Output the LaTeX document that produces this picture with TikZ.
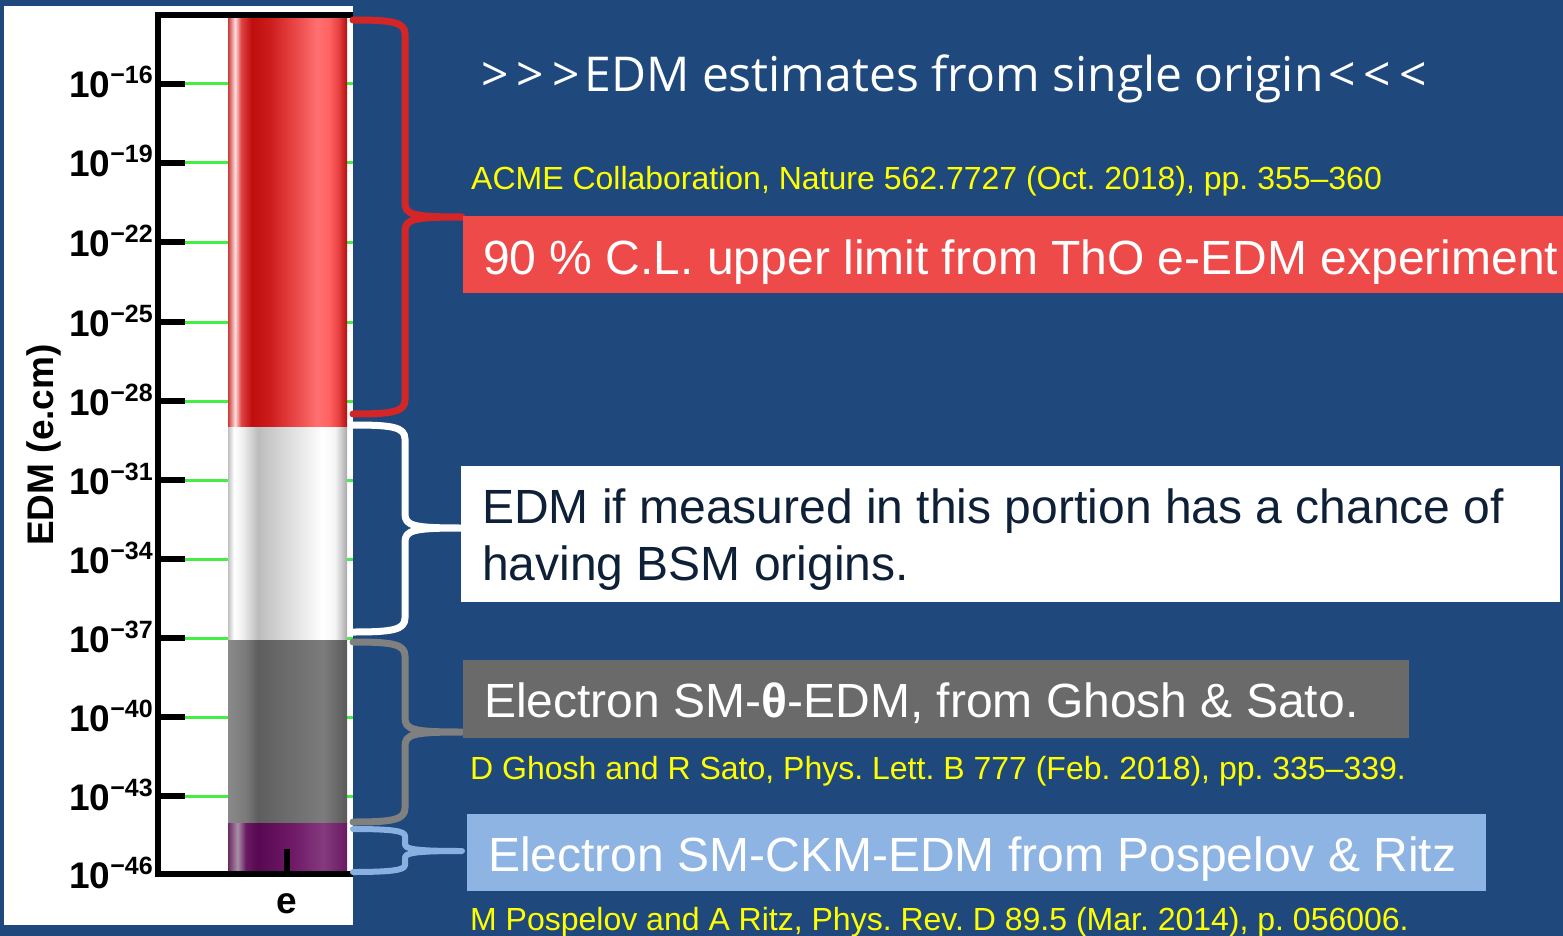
\documentclass[tikz,border=0pt]{standalone}
\usepackage{fontspec}
\setmainfont{Liberation Sans}
\newfontfamily\titlefont{Open Sans}
\usetikzlibrary{calc}

\definecolor{bg}{HTML}{1F497D}
\definecolor{redboxc}{HTML}{EF4A4A}
\definecolor{grayboxc}{HTML}{6A6A6A}
\definecolor{blueboxc}{HTML}{8EB4E3}
\definecolor{refyellow}{HTML}{FFFF00}
\definecolor{bracered}{HTML}{D42626}
\definecolor{bracegray}{HTML}{808080}
\definecolor{braceblue}{HTML}{88B0E0}
\definecolor{tickgreen}{HTML}{44EE44}
\definecolor{darktext}{HTML}{0E2038}

% red bar colours
\definecolor{rb0}{HTML}{CC3838}\definecolor{rb1}{HTML}{FFE0E0}\definecolor{rb2}{HTML}{E04444}
\definecolor{rb3}{HTML}{C00E0E}\definecolor{rb4}{HTML}{CC1C1C}\definecolor{rb5}{HTML}{E84444}
\definecolor{rb6}{HTML}{FF7070}\definecolor{rb7}{HTML}{FF6262}\definecolor{rb8}{HTML}{E84040}
\definecolor{rb9}{HTML}{B01010}
% white bar colours
\definecolor{wb0}{HTML}{C0C0C0}\definecolor{wb1}{HTML}{FFFFFF}\definecolor{wb2}{HTML}{F0F0F0}
\definecolor{wb3}{HTML}{BCBCBC}\definecolor{wb4}{HTML}{DCDCDC}\definecolor{wb5}{HTML}{FFFFFF}
\definecolor{wb6}{HTML}{F4F4F4}\definecolor{wb7}{HTML}{A8A8A8}
% gray bar colours
\definecolor{gb0}{HTML}{8A8A8A}\definecolor{gb1}{HTML}{7A7A7A}\definecolor{gb2}{HTML}{5E5E5E}
\definecolor{gb3}{HTML}{6C6C6C}\definecolor{gb4}{HTML}{7C7C7C}\definecolor{gb5}{HTML}{5A5A5A}
% purple bar colours
\definecolor{pb0}{HTML}{6A2A64}\definecolor{pb1}{HTML}{A890A4}\definecolor{pb2}{HTML}{6A1A62}
\definecolor{pb3}{HTML}{580852}\definecolor{pb4}{HTML}{701A68}\definecolor{pb5}{HTML}{843A7E}
\definecolor{pb6}{HTML}{6A1A62}

\pgfdeclarehorizontalshading{redbar}{100bp}{color(0bp)=(rb0); color(25bp)=(rb0); color(28bp)=(rb1); color(30.5bp)=(rb2); color(35bp)=(rb3); color(42.5bp)=(rb4); color(52.5bp)=(rb5); color(62.5bp)=(rb6); color(67.5bp)=(rb7); color(71.5bp)=(rb8); color(75bp)=(rb9); color(100bp)=(rb9)}
\pgfdeclarehorizontalshading{whitebar}{100bp}{color(0bp)=(wb0); color(25bp)=(wb0); color(27.5bp)=(wb1); color(31bp)=(wb2); color(37.5bp)=(wb3); color(50bp)=(wb4); color(65bp)=(wb5); color(70bp)=(wb6); color(75bp)=(wb7); color(100bp)=(wb7)}
\pgfdeclarehorizontalshading{graybar}{100bp}{color(0bp)=(gb0); color(25bp)=(gb0); color(32.5bp)=(gb1); color(37.5bp)=(gb2); color(50bp)=(gb3); color(65bp)=(gb4); color(75bp)=(gb5); color(100bp)=(gb5)}
\pgfdeclarehorizontalshading{purplebar}{100bp}{color(0bp)=(pb0); color(25bp)=(pb0); color(29bp)=(pb1); color(32.5bp)=(pb2); color(37.5bp)=(pb3); color(52.5bp)=(pb4); color(65bp)=(pb5); color(75bp)=(pb6); color(100bp)=(pb6)}

\tikzset{
  axisline/.style={line width=6pt, black},
  gridline/.style={line width=3pt, tickgreen},
  ticklabel/.style={anchor=base east, inner sep=0pt, font=\bfseries\fontsize{37}{37}\selectfont},
  bracestyle/.style={line width=7pt, line cap=round, line join=round},
  box/.style={anchor=north west, inner sep=0pt, draw=none},
  boxtext/.style={anchor=base west, inner sep=0pt, font=\frenchspacing\fontsize{48}{57}\selectfont},
  reftext/.style={anchor=base west, inner sep=0pt, text=refyellow, font=\frenchspacing\fontsize{32}{38}\selectfont},
}

% brace: style, top y, middle (tip) y, bottom y, corner offset
\newcommand\edmbrace[5]{%
  \draw[bracestyle,#1] (353,#2) .. controls (392,#2) and (405,#2+2) .. (405,#2+#5)
    -- (405,#3-#5) .. controls (405,#3-2) and (414,#3) .. (462,#3)
    .. controls (414,#3) and (405,#3+2) .. (405,#3+#5)
    -- (405,#4-#5) .. controls (405,#4-2) and (392,#4) .. (353,#4);}

\begin{document}
\begin{tikzpicture}[x=1pt,y=-1pt]
\fill[bg] (0,0) rectangle (1563,936);
\useasboundingbox (0,0) rectangle (1563,936);

% white panel
\fill[white] (4,6) rectangle (353,925);

% green grid lines
\foreach \y in {84,163,242,322,401,480,559,638,717,796}
  \draw[gridline] (185,\y) -- (353,\y);

% bar segments
\shade[shading=redbar] (228,19) rectangle (347,427);
\shade[shading=whitebar] (228,427) rectangle (347,640);
\shade[shading=graybar] (228,640) rectangle (347,823);
\shade[shading=purplebar] (228,823) rectangle (347,872);

% axes
\draw[axisline] (158,12) -- (158,877);
\draw[axisline] (155,15) -- (353,15);
\draw[axisline] (155,874) -- (353,874);
\foreach \y in {84,163,242,322,401,480,559,638,717,796}
  \draw[axisline] (158,\y) -- (185,\y);
\draw[axisline] (287,849) -- (287,874);

% tick labels
\foreach \e/\y in {16/84,19/163,22/242,25/322,28/401,31/480,34/559,37/638,40/717,43/796,46/874}
  \node[ticklabel] (lab\e) at (153,\y+14) {10\raisebox{14pt}{\fontsize{25}{25}\selectfont −\e}};
\node[anchor=base, inner sep=0pt, font=\bfseries\fontsize{37}{37}\selectfont] (elab) at (287,913) {e};
\node[anchor=base, rotate=90, inner sep=0pt, font=\bfseries\fontsize{37}{37}\selectfont] (ylab) at (53,445) {EDM (e.cm)};

% braces
\edmbrace{bracered}{20}{217}{414}{14}
\edmbrace{white}{425}{528}{632}{14}
\edmbrace{bracegray}{642}{732}{822}{14}
\edmbrace{braceblue,line width=6pt}{829}{851}{872}{7}

% title
\node[anchor=base west, inner sep=0pt, text=white, font=\titlefont\fontsize{48}{58}\selectfont] (title) at (481,92)
  {>\kern8pt>\kern8pt>\kern5pt EDM estimates from single origin\kern5pt<\kern8pt<\kern8pt<};

% references and boxes
\node[reftext] (ref1) at (471,190) {ACME Collaboration, Nature 562.7727 (Oct. 2018), pp. 355–360};

\node[box, fill=redboxc, minimum width=1100pt, minimum height=77pt] (redbox) at (463,216) {};
\node[boxtext, text=white] (redtext) at (483,274) {90 \% C.L. upper limit from ThO e-EDM experiment};

\node[box, fill=white, minimum width=1099pt, minimum height=136pt] (whitebox) at (461,466) {};
\node[boxtext, text=darktext, align=left, anchor=base west] (whitetext) at (482,580)
  {EDM if measured in this portion has a chance of\\having BSM origins.};

\node[box, fill=grayboxc, minimum width=946pt, minimum height=78pt] (graybox) at (463,660) {};
\node[boxtext, text=white] (graytext) at (484,717) {Electron SM-{\bfseries θ}-EDM, from Ghosh \& Sato.};
\node[reftext] (ref2) at (470,779) {D Ghosh and R Sato, Phys. Lett. B 777 (Feb. 2018), pp. 335–339.};

\node[box, fill=blueboxc, minimum width=1019pt, minimum height=77pt] (bluebox) at (467,814) {};
\node[boxtext, text=white] (bluetext) at (488,871) {Electron SM-CKM-EDM from Pospelov \& Ritz};
\node[reftext] (ref3) at (470,930) {M Pospelov and A Ritz, Phys. Rev. D 89.5 (Mar. 2014), p. 056006.};
\end{tikzpicture}
\end{document}
